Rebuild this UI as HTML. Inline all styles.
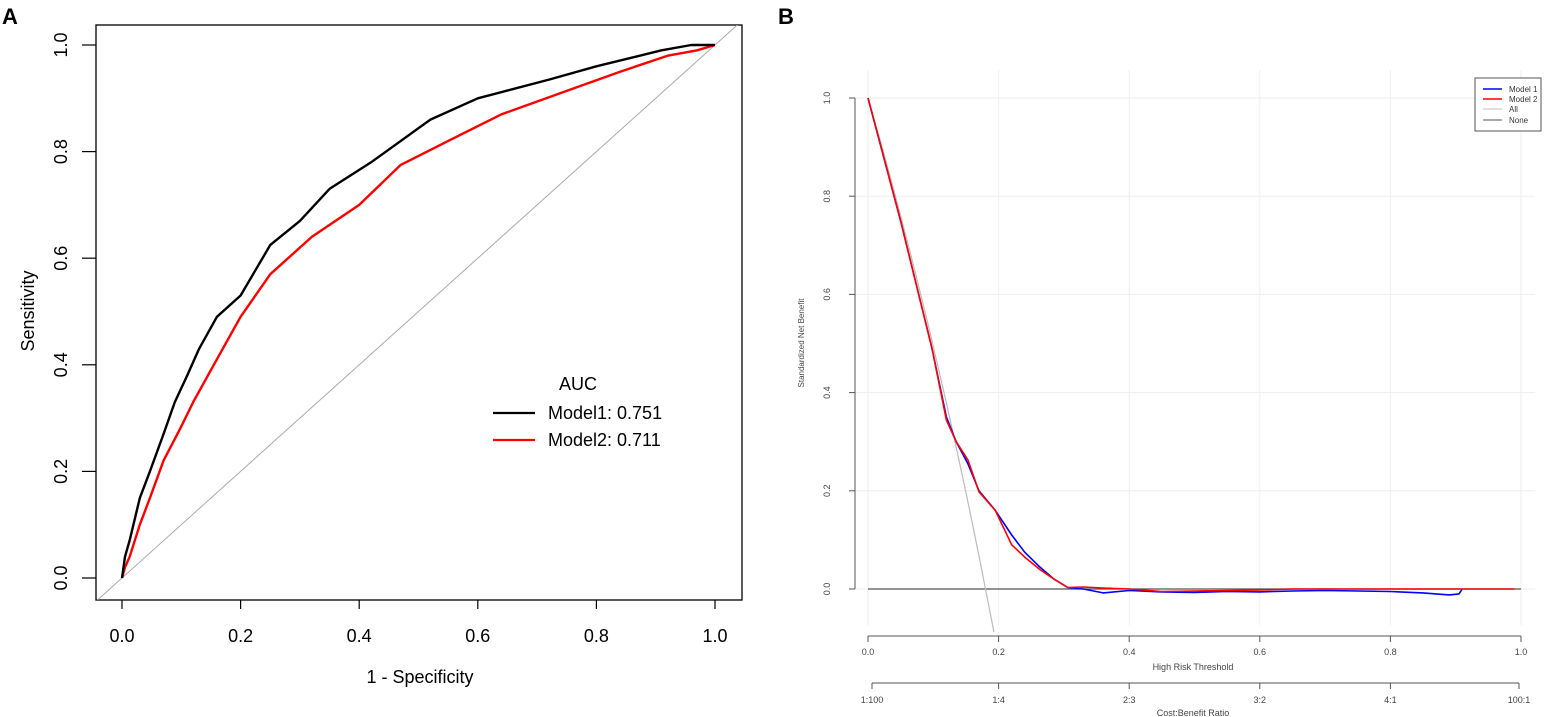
<!DOCTYPE html>
<html><head><meta charset="utf-8"><style>
body{margin:0;background:#fff;}
svg{display:block;font-family:"Liberation Sans",sans-serif;}
</style></head><body>
<svg id="s" width="1550" height="717" viewBox="0 0 1550 717">
<defs>
<clipPath id="ca"><rect x="96" y="25" width="646" height="575"/></clipPath>
<clipPath id="cb"><rect x="840" y="60" width="700" height="572"/></clipPath>
</defs>
<text x="2" y="24" font-size="22" font-weight="bold">A</text>
<text x="778" y="24" font-size="22" font-weight="bold">B</text>
<g id="ga"></g>
<g id="gb"></g>
</svg>
<script>
// ROC data
const rocTicks=[0,0.2,0.4,0.6,0.8,1.0];
const rocTickLabels=["0.0","0.2","0.4","0.6","0.8","1.0"];
const m1Fpr=[0,0.005,0.013,0.03,0.047,0.07,0.089,0.11,0.13,0.16,0.2,0.25,0.3,0.35,0.42,0.52,0.6,0.72,0.8,0.91,0.96,1];
const m1Tpr=[0,0.04,0.071,0.15,0.2,0.27,0.33,0.38,0.43,0.49,0.53,0.625,0.67,0.73,0.78,0.86,0.9,0.935,0.96,0.99,1,1];
const m2Fpr=[0,0.005,0.013,0.03,0.047,0.07,0.098,0.12,0.15,0.2,0.25,0.32,0.4,0.47,0.55,0.64,0.74,0.84,0.92,0.97,1];
const m2Tpr=[0,0.02,0.04,0.1,0.15,0.22,0.28,0.33,0.39,0.49,0.57,0.64,0.7,0.775,0.82,0.87,0.91,0.95,0.98,0.99,1];
// DCA data
const dcaTicks=[0,0.2,0.4,0.6,0.8,1.0];
const dcaTickLabels=["0.0","0.2","0.4","0.6","0.8","1.0"];
const cbLabels=["1:100","1:4","2:3","3:2","4:1","100:1"];
const prevalence=0.18;
const thr1=[0,0.05,0.098,0.12,0.135,0.153,0.17,0.195,0.22,0.24,0.263,0.285,0.306,0.33,0.36,0.4,0.45,0.5,0.55,0.6,0.65,0.7,0.75,0.8,0.85,0.89,0.905,0.91];
const nb1=[1,0.75,0.49,0.35,0.3,0.255,0.2,0.16,0.11,0.075,0.045,0.02,0.003,0,-0.008,-0.003,-0.006,-0.007,-0.005,-0.006,-0.004,-0.003,-0.004,-0.005,-0.008,-0.012,-0.01,0];
const thr2=[0,0.05,0.098,0.12,0.135,0.153,0.17,0.195,0.22,0.24,0.263,0.285,0.306,0.33,0.36,0.4,0.45,0.5,0.55,0.6,0.65,0.7,0.8,0.9,0.99];
const nb2=[1,0.75,0.49,0.344,0.3,0.263,0.198,0.16,0.09,0.065,0.04,0.02,0.003,0.004,0.002,0,-0.005,-0.004,-0.003,-0.002,0,0,0,0,0];

const NS="http://www.w3.org/2000/svg";
function mk(parent,tag,attrs,text){const e=document.createElementNS(NS,tag);for(const k in attrs)e.setAttribute(k,attrs[k]);if(text!==undefined)e.textContent=text;parent.appendChild(e);return e;}
const ga=document.getElementById('ga'),gb=document.getElementById('gb');

// ---- Panel A ----
const ax=v=>122+v*593, ay=v=>578-v*533;
let e=mk(ga,'rect',{x:96,y:25,width:646,height:575,fill:'none',stroke:'#000','stroke-width':1.3});

e=mk(ga,'line',{x1:ax(-0.05),y1:ay(-0.05),x2:ax(1.05),y2:ay(1.05),stroke:'#aaa','stroke-width':1,'clip-path':'url(#ca)'});

rocTicks.forEach((t,i)=>{
  let l=mk(ga,'line',{x1:ax(t),y1:600,x2:ax(t),y2:609,stroke:'#000','stroke-width':1.2});
  
  let tx=mk(ga,'text',{x:ax(t),y:642,'font-size':18,'text-anchor':'middle'},rocTickLabels[i]);
  
  l=mk(ga,'line',{x1:82,y1:ay(t),x2:96,y2:ay(t),stroke:'#000','stroke-width':1.2});
  
  tx=mk(ga,'text',{x:0,y:0,'font-size':18,'text-anchor':'middle',transform:`translate(67,${ay(t)}) rotate(-90)`},rocTickLabels[i]);
  
});
e=mk(ga,'text',{x:420,y:683,'font-size':18,'text-anchor':'middle'},'1 - Specificity');

e=mk(ga,'text',{x:0,y:0,'font-size':18,'text-anchor':'middle',transform:'translate(34,311) rotate(-90)'},'Sensitivity');

function poly(g,xs,ys,fx,fy,col,w,name,clip){const p=xs.map((x,i)=>fx(x).toFixed(1)+','+fy(ys[i]).toFixed(1)).join(' ');const a={points:p,fill:'none',stroke:col,'stroke-width':w,'stroke-linejoin':'round'};if(clip)a['clip-path']=clip;const el=mk(g,'polyline',a);return el;}
poly(ga,m2Fpr,m2Tpr,ax,ay,'#f00',2.4,'model2-roc-line');
poly(ga,m1Fpr,m1Tpr,ax,ay,'#000',2.4,'model1-roc-line');
e=mk(ga,'text',{x:578,y:390,'font-size':18,'text-anchor':'middle'},'AUC');

[['#000','Model1: 0.751',419],['#f00','Model2: 0.711',446]].forEach(([c,t,y])=>{
  let l=mk(ga,'line',{x1:493,y1:y-6,x2:535,y2:y-6,stroke:c,'stroke-width':2.2});
  
  let tx=mk(ga,'text',{x:548,y:y,'font-size':18},t);
  
});

// ---- Panel B ----
const bx=v=>868+v*653, by=v=>589-v*491;
dcaTicks.forEach(t=>{
  let l=mk(gb,'line',{x1:bx(t),y1:70,x2:bx(t),y2:625,stroke:'#eee','stroke-width':1});
  
  l=mk(gb,'line',{x1:855,y1:by(t),x2:1535,y2:by(t),stroke:'#eee','stroke-width':1});
  
});
e=mk(gb,'line',{x1:bx(0),y1:636,x2:bx(1),y2:636,stroke:'#555','stroke-width':1});

e=mk(gb,'line',{x1:bx(0)+4,y1:683,x2:bx(1)-2,y2:683,stroke:'#555','stroke-width':1});

e=mk(gb,'line',{x1:855,y1:by(0),x2:855,y2:by(1),stroke:'#555','stroke-width':1});

dcaTicks.forEach((t,i)=>{
  let l=mk(gb,'line',{x1:bx(t),y1:636,x2:bx(t),y2:642,stroke:'#555'});
  
  let tx=mk(gb,'text',{x:bx(t),y:655,'font-size':9,fill:'#444','text-anchor':'middle'},dcaTickLabels[i]);
  
  const cx=i==0?bx(t)+4:(i==5?bx(t)-2:bx(t));
  l=mk(gb,'line',{x1:cx,y1:683,x2:cx,y2:689,stroke:'#555'});
  
  tx=mk(gb,'text',{x:cx,y:703,'font-size':9,fill:'#444','text-anchor':'middle'},cbLabels[i]);
  
  l=mk(gb,'line',{x1:849,y1:by(t),x2:855,y2:by(t),stroke:'#555'});
  
  tx=mk(gb,'text',{x:0,y:0,'font-size':9,fill:'#444','text-anchor':'middle',transform:`translate(830,${by(t)}) rotate(-90)`},dcaTickLabels[i]);
  
});
e=mk(gb,'text',{x:1193,y:670,'font-size':9,fill:'#444','text-anchor':'middle'},'High Risk Threshold');

e=mk(gb,'text',{x:1193,y:716,'font-size':9,fill:'#444','text-anchor':'middle'},'Cost:Benefit Ratio');

e=mk(gb,'text',{x:0,y:0,'font-size':8,fill:'#444','text-anchor':'middle',transform:'translate(804,343) rotate(-90)'},'Standardized Net Benefit');

e=mk(gb,'line',{x1:bx(0),y1:by(0),x2:bx(1),y2:by(0),stroke:'#555','stroke-width':1.3});

const allT=[],allV=[];
for(let t=0;t<=0.21;t+=0.01){allT.push(t);allV.push(1-(1-prevalence)/prevalence*t/(1-t));}
poly(gb,allT,allV,bx,by,'#bbb',1.2,'all-line','url(#cb)');
poly(gb,thr1,nb1,bx,by,'#00f',1.6,'model1-dca-line');
poly(gb,thr2,nb2,bx,by,'#f00',1.6,'model2-dca-line');
e=mk(gb,'rect',{x:1475,y:78,width:66,height:53,fill:'#fff',stroke:'#555','stroke-width':1});

[['#00f','Model 1',92,1.6],['#f00','Model 2',102,1.6],['#ccc','All',112,1.2],['#555','None',123,1]].forEach(([c,t,y,w])=>{
  let l=mk(gb,'line',{x1:1483,y1:y-3,x2:1502,y2:y-3,stroke:c,'stroke-width':w});
  
  let tx=mk(gb,'text',{x:1509,y:y,'font-size':8,fill:'#333'},t);
  
});
</script>
</body></html>
